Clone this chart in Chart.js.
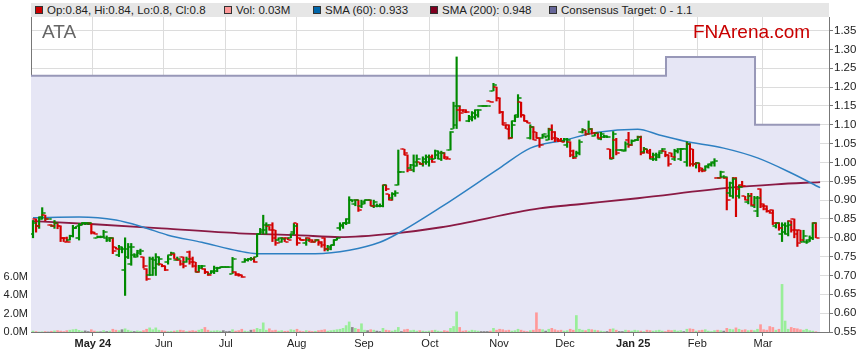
<!DOCTYPE html>
<html>
<head>
<meta charset="utf-8">
<script src="https://cdn.jsdelivr.net/npm/chart.js@4/dist/chart.umd.min.js"></script>
<style>
  body { margin: 0; background: #fff; }
  #wrap { position: relative; width: 859px; height: 363px; font-family: "Liberation Sans", Arial, sans-serif; }
  #chart { position: absolute; left: 0; top: 0; }
  #legend { position: absolute; left: 31px; top: 3px; width: 798px; height: 14px; background: #e6e6e6; font-size: 11.5px; color: #222; }
  .item { position: absolute; top: 0; line-height: 14px; white-space: nowrap; }
  .sq { display: inline-block; width: 6px; height: 6px; border: 1px solid #333; margin-right: 4px; vertical-align: 0px; }
  .big { position: absolute; top: 22px; font-size: 19px; line-height: 19px; white-space: nowrap; }
</style>
</head>
<body>
<div id="wrap">
  <canvas id="chart" width="859" height="363"></canvas>
  <div id="legend">
    <div class="item" style="left:4px"><span class="sq" style="background:#cc0000"></span>Op:0.84, Hi:0.84, Lo:0.8, Cl:0.8</div>
    <div class="item" style="left:193px"><span class="sq" style="background:#ff9999"></span>Vol: 0.03M</div>
    <div class="item" style="left:282px"><span class="sq" style="background:#0066aa"></span>SMA (60): 0.933</div>
    <div class="item" style="left:399px"><span class="sq" style="background:#800020"></span>SMA (200): 0.948</div>
    <div class="item" style="left:518px"><span class="sq" style="background:#666699"></span>Consensus Target: 0 - 1.1</div>
  </div>
  <div class="big" style="left:42px;color:#666">ATA</div>
  <div class="big" style="left:693px;color:#c80000">FNArena.com</div>
</div>
<script>
// month ticks (trading-day index of month start) and their labels
const monthTicks = [19.5, 42.6, 62.8, 85.9, 107.8, 129.3, 151.8, 173.3, 195.5, 216.4, 237.8];
const monthLabels = ["May 24", "Jun", "Jul", "Aug", "Sep", "Oct", "Nov", "Dec", "Jan 25", "Feb", "Mar"];
const priceTicks = [0.55, 0.6, 0.65, 0.7, 0.75, 0.8, 0.85, 0.9, 0.95, 1.0, 1.05, 1.1, 1.15, 1.2, 1.25, 1.3, 1.35];
const volTicks = [0, 2, 4, 6];

// daily OHLC
const opens = [
  .81,.85,.83,.855,.86,.85,.835,.83,.838,.83,
  .80,.80,.795,.805,.825,.80,.835,.838,.838,.838,
  .815,.80,.802,.802,.80,.795,.80,.775,.755,.77,
  .715,.75,.73,.755,.75,.76,.749,.718,.70,.70,
  .72,.73,.73,.725,.735,.755,.758,.74,.74,.749,
  .735,.762,.745,.735,.71,.72,.718,.709,.705,.71,
  .712,.72,.722,.722,.722,.705,.71,.705,.70,.735,
  .74,.745,.745,.75,.81,.815,.82,.83,.835,.82,
  .795,.79,.80,.80,.80,.815,.838,.80,.795,.785,
  .80,.795,.79,.795,.79,.80,.77,.77,.78,.795,
  .825,.83,.84,.84,.90,.89,.90,.885,.89,.90,
  .90,.885,.885,.885,.885,.94,.915,.905,.915,.94,
  .975,1.035,1.02,.985,.98,.99,1.0,.995,1.0,1.0,
  1.015,1.01,1.02,1.01,1.025,1.015,1.033,1.09,1.10,1.14,
  1.14,1.14,1.11,1.115,1.12,1.125,1.15,1.15,1.15,1.162,
  1.19,1.20,1.17,1.135,1.10,1.10,1.065,1.11,1.125,1.16,
  1.125,1.11,1.065,1.095,1.08,1.064,1.065,1.07,1.06,1.09,
  1.08,1.064,1.06,1.058,1.045,1.055,1.03,1.015,1.025,1.08,
  1.085,1.075,1.09,1.07,1.078,1.062,1.068,1.068,1.035,1.01,
  1.06,1.033,1.033,1.03,1.06,1.045,1.058,1.06,1.068,1.028,
  1.035,1.03,1.01,1.01,1.015,1.03,1.03,1.02,1.025,1.01,
  1.03,1.01,1.037,1.0,1.05,1.035,.995,.998,.985,.98,
  .99,.995,1.0,.96,.96,.962,.96,.92,.91,.96,
  .91,.94,.91,.895,.91,.885,.87,.93,.89,.885,
  .87,.874,.83,.84,.81,.815,.81,.845,.85,.82,
  .82,.79,.79,.79,.80,.84
];
const highs = [
  .846,.85,.855,.88,.86,.85,.835,.846,.838,.83,
  .80,.802,.807,.833,.83,.838,.84,.84,.84,.838,
  .815,.805,.805,.82,.805,.80,.80,.775,.78,.775,
  .80,.785,.785,.758,.767,.77,.749,.718,.749,.749,
  .758,.749,.73,.725,.753,.762,.758,.749,.74,.749,
  .749,.765,.749,.735,.727,.727,.718,.709,.713,.725,
  .722,.722,.722,.722,.722,.748,.71,.705,.70,.745,
  .745,.748,.748,.81,.825,.86,.84,.83,.84,.82,
  .80,.80,.80,.80,.811,.838,.838,.80,.795,.80,
  .80,.795,.795,.795,.79,.80,.78,.78,.795,.80,
  .84,.84,.851,.909,.90,.90,.90,.90,.90,.90,
  .90,.90,.89,.89,.94,.94,.915,.92,.925,1.033,
  .975,1.035,1.02,.995,1.02,1.02,1.0,1.015,1.02,1.02,
  1.02,1.033,1.03,1.03,1.026,1.015,1.082,1.16,1.28,1.15,
  1.14,1.14,1.125,1.135,1.14,1.14,1.15,1.15,1.15,1.162,
  1.21,1.20,1.17,1.135,1.10,1.10,1.11,1.125,1.18,1.16,
  1.125,1.11,1.10,1.095,1.08,1.064,1.075,1.07,1.091,1.10,
  1.082,1.064,1.064,1.064,1.064,1.055,1.033,1.03,1.06,1.09,
  1.085,1.11,1.09,1.08,1.078,1.08,1.072,1.07,1.035,1.082,
  1.064,1.033,1.033,1.055,1.08,1.06,1.06,1.07,1.07,1.04,
  1.035,1.035,1.025,1.025,1.028,1.037,1.03,1.02,1.025,1.035,
  1.037,1.037,1.037,1.055,1.05,1.035,1.0,.998,.985,.99,
  .995,1.0,1.01,.96,.977,.965,.96,.948,.96,.96,
  .94,.95,.91,.918,.918,.91,.91,.93,.89,.885,
  .87,.874,.84,.84,.84,.84,.845,.845,.85,.82,
  .82,.82,.795,.805,.84,.84
];
const lows = [
  .80,.815,.825,.85,.845,.85,.83,.825,.824,.79,
  .79,.79,.794,.802,.825,.794,.835,.835,.835,.81,
  .81,.80,.80,.802,.79,.79,.758,.77,.75,.76,
  .647,.745,.727,.749,.749,.755,.72,.687,.70,.70,
  .70,.727,.723,.713,.73,.753,.745,.74,.727,.72,
  .735,.73,.722,.709,.709,.718,.705,.70,.705,.705,
  .71,.72,.722,.722,.722,.705,.70,.698,.695,.735,
  .738,.74,.735,.75,.81,.81,.81,.82,.79,.78,
  .793,.788,.79,.795,.80,.81,.78,.795,.793,.78,
  .79,.79,.79,.78,.775,.765,.765,.768,.78,.795,
  .82,.825,.835,.838,.895,.885,.87,.88,.89,.90,
  .885,.88,.882,.882,.882,.925,.90,.90,.91,.94,
  .975,1.02,.975,.983,.975,.99,.995,.99,.995,.99,
  1.0,1.01,1.01,1.005,1.01,1.01,1.033,1.09,1.09,1.11,
  1.135,1.132,1.108,1.11,1.115,1.12,1.15,1.15,1.15,1.16,
  1.19,1.163,1.13,1.10,1.09,1.062,1.065,1.108,1.12,1.12,
  1.11,1.105,1.062,1.06,1.064,1.04,1.064,1.065,1.06,1.06,
  1.055,1.055,1.055,1.055,1.04,1.015,1.01,1.015,1.02,1.078,
  1.072,1.075,1.075,1.07,1.064,1.06,1.066,1.066,1.01,1.01,
  1.02,1.033,1.033,1.03,1.04,1.045,1.058,1.058,1.02,1.025,
  1.025,1.01,1.005,1.005,1.012,1.028,1.015,.99,1.015,1.005,
  1.025,1.005,1.037,.99,.99,.99,.985,.975,.975,.978,
  .985,.99,.99,.958,.96,.958,.874,.91,.905,.856,
  .905,.935,.90,.89,.886,.88,.856,.88,.874,.868,
  .865,.835,.826,.82,.79,.81,.805,.815,.80,.777,
  .79,.79,.785,.79,.795,.80
];
const closes = [
  .84,.83,.85,.865,.85,.85,.83,.84,.83,.80,
  .79,.79,.805,.825,.83,.835,.838,.838,.838,.812,
  .81,.802,.802,.815,.80,.80,.765,.77,.775,.77,
  .77,.775,.775,.755,.765,.765,.725,.69,.745,.74,
  .75,.745,.725,.715,.745,.76,.745,.745,.73,.725,
  .745,.735,.725,.71,.725,.725,.708,.70,.713,.72,
  .72,.722,.722,.722,.722,.745,.70,.70,.695,.74,
  .745,.745,.735,.81,.82,.835,.835,.82,.80,.785,
  .80,.798,.79,.795,.81,.83,.785,.795,.793,.795,
  .79,.79,.795,.785,.78,.77,.775,.78,.795,.80,
  .835,.84,.85,.90,.90,.90,.875,.895,.90,.90,
  .885,.895,.885,.885,.94,.93,.90,.915,.92,.975,
  .975,1.025,.98,.993,1.0,1.01,.995,1.01,1.015,1.01,
  1.0,1.03,1.025,1.025,1.01,1.01,1.08,1.15,1.15,1.13,
  1.135,1.135,1.12,1.13,1.14,1.14,1.15,1.15,1.15,1.16,
  1.205,1.17,1.135,1.105,1.09,1.065,1.10,1.12,1.17,1.125,
  1.11,1.105,1.095,1.06,1.065,1.045,1.075,1.07,1.085,1.065,
  1.06,1.058,1.055,1.062,1.06,1.02,1.012,1.025,1.055,1.085,
  1.075,1.09,1.078,1.078,1.066,1.075,1.07,1.068,1.012,1.075,
  1.025,1.033,1.033,1.05,1.045,1.058,1.06,1.068,1.025,1.035,
  1.025,1.015,1.02,1.02,1.025,1.035,1.02,.995,1.015,1.03,
  1.035,1.035,1.037,1.05,.995,.995,.998,.98,.978,.988,
  .993,.998,1.005,.958,.975,.962,.90,.945,.955,.93,
  .935,.937,.90,.91,.888,.905,.905,.885,.876,.87,
  .865,.838,.838,.825,.835,.83,.835,.82,.81,.785,
  .795,.805,.795,.80,.84,.80
];
// daily volume, millions
const volumes = [
  0.10,0.05,0.00,0.02,0.05,0.00,0.08,0.12,0.15,0.10,0.05,0.15,0.20,0.25,0.30,0.18,
  0.10,0.12,0.05,0.25,0.10,0.05,0.02,0.15,0.05,0.10,0.30,0.20,0.15,0.25,0.35,0.20,
  0.10,0.05,0.12,0.08,0.15,0.30,0.45,0.25,0.45,0.20,0.15,0.10,0.05,0.08,0.10,0.15,
  0.20,0.15,0.05,0.10,0.15,0.10,0.20,0.30,0.50,0.20,0.10,0.12,0.15,0.10,0.15,0.05,
  0.08,0.25,0.10,0.15,0.30,0.10,0.05,0.20,0.25,0.40,0.30,1.00,0.20,0.35,0.15,0.20,
  0.10,0.15,0.08,0.10,0.25,0.20,0.30,0.10,0.05,0.15,0.10,0.05,0.08,0.15,0.20,0.25,
  0.10,0.15,0.20,0.25,0.30,0.40,0.70,1.10,0.50,0.40,0.30,0.90,0.20,0.15,0.25,0.20,
  0.10,0.05,0.40,0.20,0.15,0.10,0.20,0.50,0.05,0.25,0.30,0.15,0.20,0.10,0.15,0.10,
  0.05,0.10,0.15,0.20,0.10,0.05,0.15,0.10,0.40,0.60,2.20,0.50,0.10,0.15,0.10,0.20,
  0.15,0.10,0.05,0.05,0.05,0.10,0.40,0.20,0.30,0.25,0.15,0.20,0.10,0.15,0.30,0.20,
  0.10,0.05,0.15,0.20,2.10,0.30,0.25,0.10,0.30,0.40,0.25,0.15,0.20,0.10,0.15,0.30,
  0.20,1.80,0.30,0.20,0.15,0.30,0.25,0.20,0.15,0.10,0.05,0.05,0.30,0.35,0.20,0.05,
  0.05,0.20,0.15,0.10,0.20,0.15,0.10,0.05,0.20,0.15,0.10,0.15,0.20,0.10,0.05,0.20,
  0.15,0.20,0.10,0.15,0.05,0.30,0.35,0.30,0.10,0.15,0.20,0.25,0.10,0.05,0.15,0.20,
  0.15,0.10,0.40,0.30,0.25,0.45,0.30,0.20,0.25,0.15,0.20,0.15,0.30,0.80,0.25,0.20,
  0.60,0.50,0.20,0.30,5.20,1.20,0.30,0.50,0.40,0.35,0.25,0.20,0.30,0.15,0.10,0.03
];

// moving averages (day index, value)
const sma60X = [0, 15, 27, 36, 44, 55, 67, 73, 92, 103, 113, 119, 133, 152, 162, 173, 184, 197, 204, 212, 225, 236, 247, 256.4];
const sma60Y = [.853, .855, .847, .828, .807, .788, .765, .758, .758, .767, .788, .812, .882, .985, 1.038, 1.059, 1.08, 1.088, 1.073, 1.057, 1.038, 1.012, .972, .933];
const sma200X = [0, 20, 42, 67, 86, 100, 118, 133, 165, 178, 197, 227, 242, 256.4];
const sma200Y = [.844, .836, .825, .812, .807, .802, .812, .828, .878, .889, .905, .933, .942, .948];

// consensus target steps
const targetX = [-0.65, 206.2, 235.2, 256.4];
const targetY = [1.23, 1.28, 1.10, 1.10];

const GREEN = "#008a00";
const RED = "#d40000";

function isUp(i) {
  return closes[i] >= opens[i];
}

// little horizontal ticks for open (left) and close (right)
function tickImage(color, side) {
  const c = document.createElement("canvas");
  c.width = 8;
  c.height = 2;
  const g = c.getContext("2d");
  g.fillStyle = color;
  if (side === "left") g.fillRect(0.5, 0.25, 3, 1.5);
  else g.fillRect(4.5, 0.25, 3, 1.5);
  return c;
}
const openUp = tickImage(GREEN, "left");
const openDown = tickImage(RED, "left");
const closeUp = tickImage(GREEN, "right");
const closeDown = tickImage(RED, "right");

Chart.defaults.font.family = '"Liberation Sans", Arial, sans-serif';

const ctx = document.getElementById("chart").getContext("2d");
new Chart(ctx, {
  type: "line",
  data: {
    datasets: [
      {
        // consensus target band
        type: "line",
        data: targetX.map((x, i) => ({ x: x, y: targetY[i] })),
        yAxisID: "y",
        stepped: "before",
        fill: "start",
        backgroundColor: "#e6e6f5",
        borderColor: "#9898b8",
        borderWidth: 2,
        pointRadius: 0,
        order: 10,
      },
      {
        type: "bar",
        data: volumes.map((v, i) => ({ x: i, y: v })),
        yAxisID: "yVol",
        grouped: false,
        barThickness: 2,
        backgroundColor: (c) => {
          const i = c.dataIndex;
          if (closes[i] === opens[i]) return "#888888";
          return closes[i] > opens[i] ? "#99ee99" : "#ff9999";
        },
        order: 8,
      },
      {
        type: "line",
        data: sma200X.map((x, i) => ({ x: x, y: sma200Y[i] })),
        yAxisID: "y",
        borderColor: "#8a1a44",
        borderWidth: 1.8,
        cubicInterpolationMode: "monotone",
        pointRadius: 0,
        order: 6,
      },
      {
        type: "line",
        data: sma60X.map((x, i) => ({ x: x, y: sma60Y[i] })),
        yAxisID: "y",
        borderColor: "#2e80c2",
        borderWidth: 1.5,
        cubicInterpolationMode: "monotone",
        pointRadius: 0,
        order: 5,
      },
      {
        // high - low
        type: "bar",
        data: closes.map((c, i) => ({ x: i, y: [lows[i], highs[i]] })),
        yAxisID: "y",
        grouped: false,
        barThickness: 1.5,
        backgroundColor: (c) => (isUp(c.dataIndex) ? GREEN : RED),
        order: 3,
      },
      {
        type: "line",
        data: opens.map((o, i) => ({ x: i, y: o })),
        yAxisID: "y",
        showLine: false,
        pointRadius: 1,
        pointStyle: (c) => (isUp(c.dataIndex) ? openUp : openDown),
        order: 2,
      },
      {
        type: "line",
        data: closes.map((c, i) => ({ x: i, y: c })),
        yAxisID: "y",
        showLine: false,
        pointRadius: 1,
        pointStyle: (c) => (isUp(c.dataIndex) ? closeUp : closeDown),
        order: 1,
      },
    ],
  },
  options: {
    responsive: false,
    devicePixelRatio: 1,
    animation: false,
    events: [],
    layout: { padding: { top: 17, left: 0, right: 0, bottom: 0 } },
    plugins: { legend: { display: false }, tooltip: { enabled: false } },
    scales: {
      x: {
        type: "linear",
        min: -0.65,
        max: 259.3,
        offset: false,
        afterBuildTicks: (axis) => {
          axis.ticks = monthTicks.map((v) => ({ value: v }));
        },
        afterFit: (axis) => {
          axis.height = 31;
        },
        grid: { color: "#dcdcdc", tickColor: "#777", tickLength: 4, offset: false },
        border: { color: "#777" },
        ticks: {
          autoSkip: false,
          maxRotation: 0,
          padding: 1,
          color: "#222",
          callback: (v, i) => monthLabels[i],
          font: (c) => ({
            size: 11,
            weight: monthLabels[c.index] && monthLabels[c.index].includes(" ") ? "bold" : "normal",
          }),
        },
      },
      y: {
        type: "linear",
        position: "right",
        min: 0.55,
        max: 1.386,
        afterBuildTicks: (axis) => {
          axis.ticks = priceTicks.map((v) => ({ value: v }));
        },
        afterFit: (axis) => {
          axis.width = 30;
        },
        grid: { color: "#dcdcdc", tickColor: "#777", tickLength: 4 },
        border: { color: "#777" },
        ticks: {
          padding: 1,
          color: "#222",
          font: { size: 11.5 },
          callback: (v) => Number(v).toFixed(2),
        },
      },
      yVol: {
        type: "linear",
        position: "left",
        min: 0,
        max: 34.4,
        afterBuildTicks: (axis) => {
          axis.ticks = volTicks.map((v) => ({ value: v }));
        },
        afterFit: (axis) => {
          axis.width = 31;
        },
        grid: { display: false, drawTicks: false },
        border: { display: true, color: "#777" },
        ticks: {
          padding: 3,
          color: "#222",
          font: { size: 11 },
          callback: (v) => Number(v).toFixed(1) + "M",
        },
      },
    },
  },
});
</script>
</body>
</html>
